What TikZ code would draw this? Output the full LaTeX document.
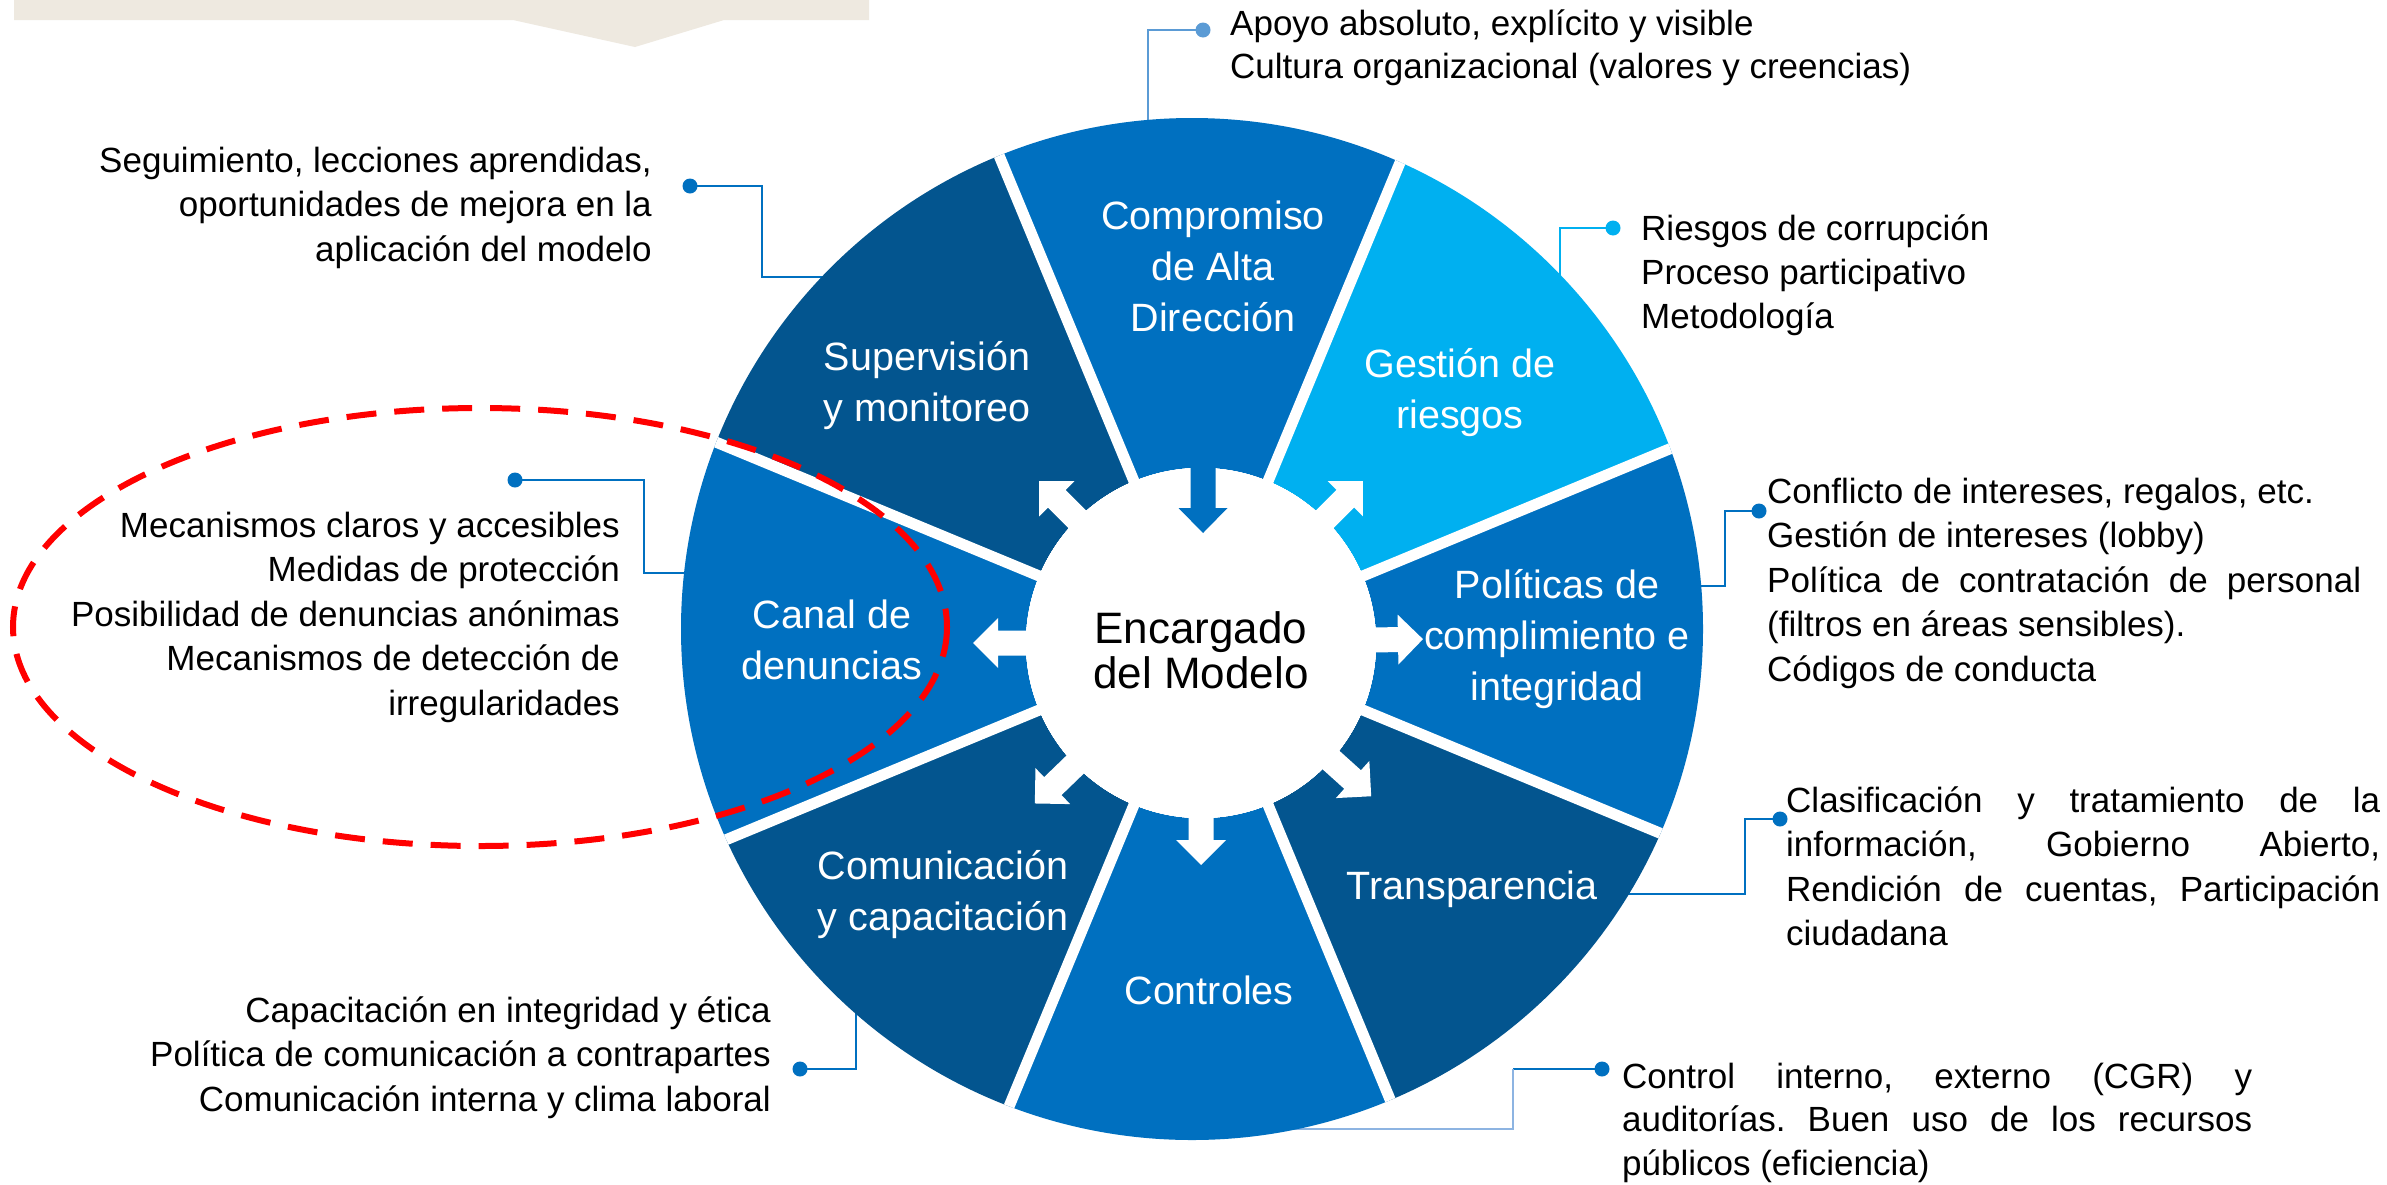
\documentclass[tikz,border=0pt]{standalone}
\usepackage{fontspec}
\setmainfont{Liberation Sans}
\frenchspacing
\definecolor{cmid}{HTML}{0070C0}
\definecolor{clight}{HTML}{00B0F0}
\definecolor{cdark}{HTML}{03558F}
\definecolor{csteel}{HTML}{5B9BD5}
\definecolor{cpale}{HTML}{8DB4E2}
\definecolor{cbeige}{HTML}{EEE9E0}
\definecolor{cred}{HTML}{FF0000}
\newcommand{\bodyfont}{\fontsize{35}{44.5}\selectfont}
\newcommand{\labfont}{\fontsize{39.5}{51}\selectfont}
\newcommand{\cenfont}{\fontsize{44}{45}\selectfont}
\newcommand{\blockarrow}[3]{%
  \fill[#3, shift={(1201,643)}, rotate={-1*(#1)}] (100,-12.5) -- (#2-25,-12.5) -- (#2-25,-25) -- (#2,0) -- (#2-25,25) -- (#2-25,12.5) -- (100,12.5) -- cycle;}
\tikzset{
  infoL/.style={anchor=base west, inner sep=0pt, font=\bodyfont},
  infoR/.style={anchor=base east, inner sep=0pt, font=\bodyfont},
  seglab/.style={anchor=base, inner sep=0pt, text=white, font=\labfont},
  dotn/.style={circle, inner sep=0pt, minimum size=15pt},
  conn/.style={line width=2.5pt},
}
\begin{document}
\begin{tikzpicture}[x=1pt, y=-1pt]
\useasboundingbox (0,0) rectangle (2387,1184);
\fill[white] (0,0) rectangle (2387,1184);
% banner
\fill[cbeige] (14,-5) -- (869,-5) -- (869,20) -- (724,20) -- (635,47) -- (513,20) -- (14,20) -- cycle;
% dots
\node[dotn, fill=csteel] (dA) at (1203,30) {};
\node[dotn, fill=cmid] (dS) at (690,186) {};
\node[dotn, fill=clight] (dG) at (1613,228) {};
\node[dotn, fill=cmid] (dP) at (1759,511) {};
\node[dotn, fill=cmid] (dT) at (1780,819) {};
\node[dotn, fill=cmid] (dC) at (1602,1069) {};
\node[dotn, fill=cmid] (dCo) at (800,1069) {};
\node[dotn, fill=cmid] (dK) at (515,480) {};
% connector ends (hidden under the wheel)
\coordinate (eA) at (1148,140);
\coordinate (eS) at (840,277);
\coordinate (eG) at (1560,300);
\coordinate (eP) at (1680,586);
\coordinate (eT) at (1600,894);
\coordinate (bC) at (1513,1069);
\coordinate (eC) at (1250,1129);
\coordinate (eCo) at (856,995);
\coordinate (eK) at (700,573);
\draw[conn, csteel] (dA.center) -| (eA);
\draw[conn, cmid] (dS.center) -- (762,186) |- (eS);
\draw[conn, clight] (dG.center) -| (eG);
\draw[conn, cmid] (dP.center) -- (1725,511) |- (eP);
\draw[conn, cmid] (dT.center) -- (1745,819) |- (eT);
\draw[conn, cmid] (dC.center) -- (bC);
\draw[line width=2pt, cpale] (bC) |- (eC);
\draw[conn, cmid] (dCo.center) -| (eCo);
\draw[conn, cmid] (dK.center) -- (644,480) |- (eK);
% wheel
\begin{scope}
  \clip (1192,629) circle (511);
  \foreach \a/\c in {-90/cmid,-45/clight,0/cmid,45/cdark,90/cmid,135/cdark,180/cmid,225/cdark}
    \fill[\c] (1201,643) -- +(\a-22.5:1000) -- +(\a:1100) -- +(\a+22.5:1000) -- cycle;
  \foreach \a in {-67.5,-22.5,22.5,67.5,112.5,157.5,202.5,247.5}
    \draw[white, line width=11pt] (1201,643) -- +(\a:700);
\end{scope}
% arrows
\foreach \a/\t in {225/229,-45/229,-1/222,42/229,90/222,136/231,180/228}
  \blockarrow{\a}{\t}{white}
\node[circle, fill=white, minimum size=350pt, inner sep=0pt] (hub) at (1201,643) {};
\fill[cmid] (1190.5,440) -- (1190.5,508) -- (1178.5,508) -- (1203,533) -- (1227.5,508) -- (1215.5,508) -- (1215.5,440) -- cycle;
% segment labels
\node[seglab] (lA) at (1213,229) {\begin{tabular}[t]{@{}c@{}}Compromiso\\de Alta\\Dirección\end{tabular}};
\node[seglab] (lS) at (927,370) {\begin{tabular}[t]{@{}c@{}}Supervisión\\y monitoreo\end{tabular}};
\node[seglab] (lG) at (1460,377) {\begin{tabular}[t]{@{}c@{}}Gestión de\\riesgos\end{tabular}};
\node[seglab] (lP) at (1557,598) {\begin{tabular}[t]{@{}c@{}}Políticas de\\complimiento e\\integridad\end{tabular}};
\node[seglab] (lK) at (832,628) {\begin{tabular}[t]{@{}c@{}}Canal de\\denuncias\end{tabular}};
\node[seglab] (lCo) at (943,879) {\begin{tabular}[t]{@{}c@{}}Comunicación\\y capacitación\end{tabular}};
\node[seglab] (lC) at (1209,1004) {Controles};
\node[seglab] (lT) at (1472,899) {Transparencia};
\node[anchor=base, inner sep=0pt, font=\cenfont] (cen) at (1201,643) {\begin{tabular}[t]{@{}c@{}}Encargado\\del Modelo\end{tabular}};
% info texts
\node[infoL, font=\fontsize{35}{43.5}\selectfont] (tA) at (1230,35) {\begin{tabular}[t]{@{}l@{}}Apoyo absoluto, explícito y visible\\Cultura organizacional (valores y creencias)\end{tabular}};
\node[infoR] (tS) at (652,172) {\begin{tabular}[t]{@{}r@{}}Seguimiento, lecciones aprendidas,\\oportunidades de mejora en la\\aplicación del modelo\end{tabular}};
\node[infoL, font=\fontsize{35}{44}\selectfont] (tG) at (1641,240) {\begin{tabular}[t]{@{}l@{}}Riesgos de corrupción\\Proceso participativo\\Metodología\end{tabular}};
\node[infoL] (tP) at (1767,503) {\begin{tabular}[t]{@{}l@{}}Conflicto de intereses, regalos, etc.\\Gestión de intereses (lobby)\\\makebox[594pt][s]{Política de contratación de personal}\\(filtros en áreas sensibles).\\Códigos de conducta\end{tabular}};
\node[infoL] (tT) at (1786,812) {\begin{tabular}[t]{@{}l@{}}\makebox[594pt][s]{Clasificación y tratamiento de la}\\\makebox[594pt][s]{información, Gobierno Abierto,}\\\makebox[594pt][s]{Rendición de cuentas, Participación}\\ciudadana\end{tabular}};
\node[infoL, font=\fontsize{35}{43.5}\selectfont] (tC) at (1622,1088) {\begin{tabular}[t]{@{}l@{}}\makebox[630pt][s]{Control interno, externo (CGR) y}\\\makebox[630pt][s]{auditorías. Buen uso de los recursos}\\públicos (eficiencia)\end{tabular}};
\node[infoR] (tCo) at (771,1022) {\begin{tabular}[t]{@{}r@{}}Capacitación en integridad y ética\\Política de comunicación a contrapartes\\Comunicación interna y clima laboral\end{tabular}};
\node[infoR] (tK) at (620,537) {\begin{tabular}[t]{@{}r@{}}Mecanismos claros y accesibles\\Medidas de protección\\Posibilidad de denuncias anónimas\\Mecanismos de detección de\\irregularidades\end{tabular}};
% red dashed ellipse
\draw[cred, line width=6pt, dash pattern=on 30pt off 18pt] (480,627) ellipse [x radius=467, y radius=219];
\end{tikzpicture}
\end{document}
